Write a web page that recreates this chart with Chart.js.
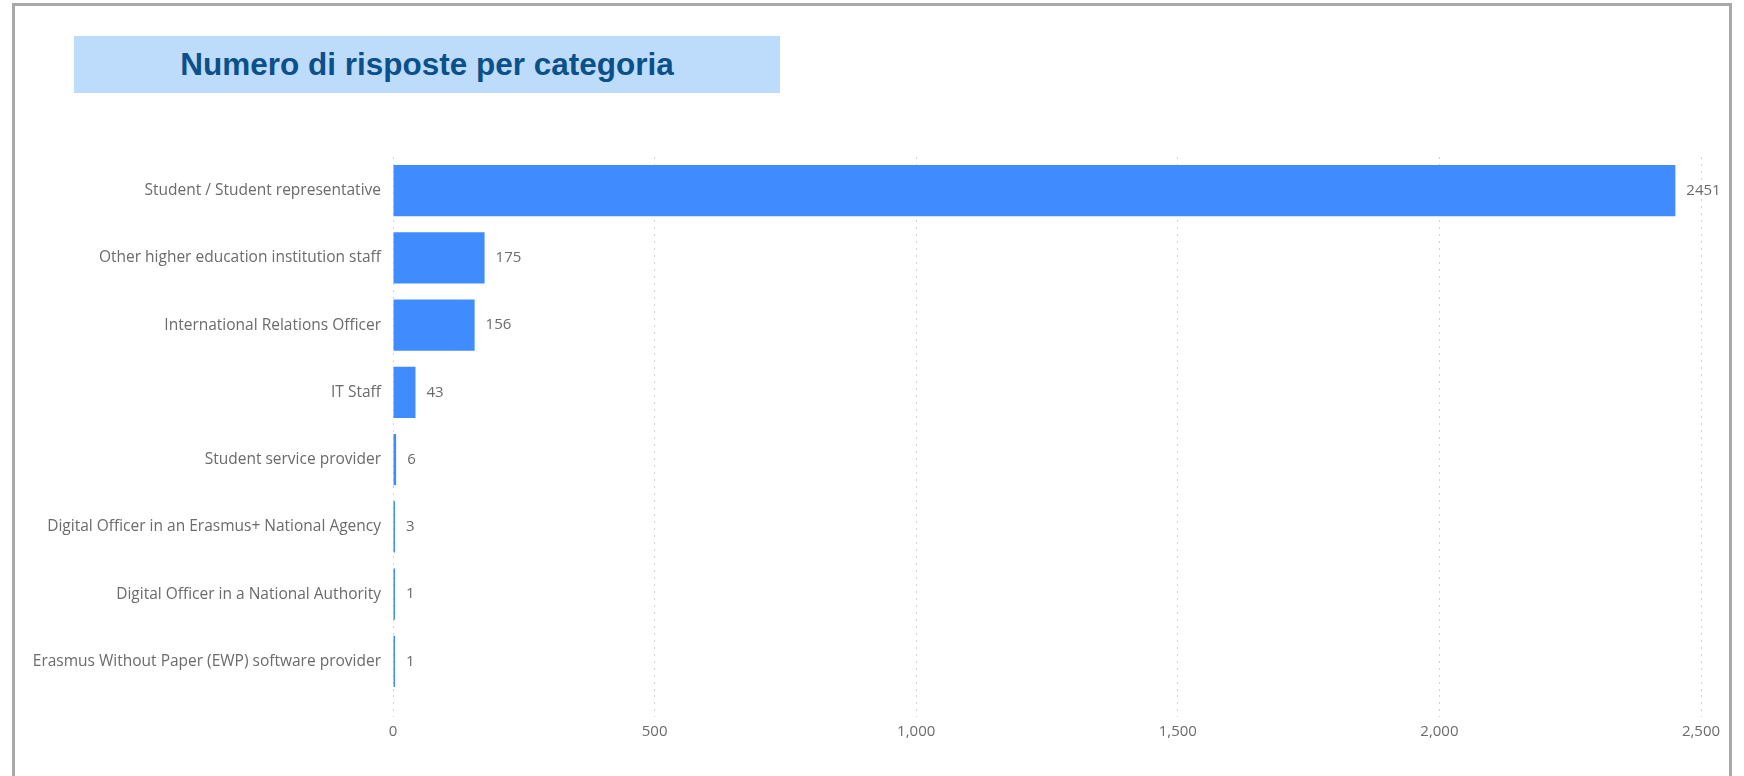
<!DOCTYPE html>
<html>
<head>
<meta charset="utf-8">
<script src="https://cdn.jsdelivr.net/npm/chart.js@4.4.1/dist/chart.umd.min.js"></script>
<style>
  html, body { margin: 0; padding: 0; background: #ffffff; }
  #wrap { position: absolute; left: 0; top: 0; width: 1744px; height: 776px; overflow: hidden; }
  #frame { position: absolute; left: 12px; top: 3px; width: 1720px; height: 800px;
           border: 3px solid #a9a9a9; box-sizing: border-box; }
  #title { position: absolute; left: 74px; top: 36px; width: 706px; height: 57px;
           background: #bddcfb; color: #0b508a; font-family: "Liberation Sans", Arial, sans-serif;
           font-weight: bold; font-size: 31.5px; display: flex; align-items: center; justify-content: center; }
  #cv { position: absolute; left: 0; top: 0; }
</style>
</head>
<body>
<div id="wrap">
  <div id="frame"></div>
  <div id="title">Numero di risposte per categoria</div>
  <canvas id="cv" width="1744" height="776"></canvas>
</div>
<script>
const categories = [
  "Student / Student representative",
  "Other higher education institution staff",
  "International Relations Officer",
  "IT Staff",
  "Student service provider",
  "Digital Officer in an Erasmus+ National Agency",
  "Digital Officer in a National Authority",
  "Erasmus Without Paper (EWP) software provider"
];
const responses = [2451, 175, 156, 43, 6, 3, 1, 1];
const xTicks = [0, 500, 1000, 1500, 2000, 2500];

const FONT = '"Open Sans", "Noto Sans", sans-serif';
const TEXT = '#6b6b6b';

const valueLabels = {
  id: 'valueLabels',
  afterDatasetsDraw(chart) {
    const ctx = chart.ctx;
    const meta = chart.getDatasetMeta(0);
    ctx.save();
    ctx.font = '15px ' + FONT;
    ctx.fillStyle = TEXT;
    ctx.textAlign = 'left';
    ctx.textBaseline = 'middle';
    meta.data.forEach((bar, i) => {
      ctx.fillText(String(responses[i]), bar.x + 11, bar.y);
    });
    ctx.restore();
  }
};

new Chart(document.getElementById('cv'), {
  type: 'bar',
  data: {
    labels: categories,
    datasets: [{
      data: responses,
      backgroundColor: '#408cff',
      borderWidth: 0,
      barPercentage: 0.76,
      categoryPercentage: 1.0,
      minBarLength: 2
    }]
  },
  options: {
    indexAxis: 'y',
    responsive: false,
    animation: false,
    devicePixelRatio: 1,
    layout: { padding: { left: 0, top: 157, right: 43, bottom: 0 } },
    plugins: { legend: { display: false }, tooltip: { enabled: false }, title: { display: false } },
    scales: {
      x: {
        type: 'linear',
        min: 0,
        max: 2500,
        afterBuildTicks(scale) { scale.ticks = xTicks.map(v => ({ value: v })); },
        afterFit(scale) { scale.height = 81; },
        border: { display: false, dash: [2, 5] },
        grid: { color: '#d2d2d2', lineWidth: 1, drawTicks: true, tickLength: 22,
                tickColor: '#d2d2d2', tickBorderDash: [2, 5] },
        ticks: { color: TEXT, font: { family: FONT, size: 15 }, padding: 6,
                 callback: v => v.toLocaleString('en-US') }
      },
      y: {
        type: 'category',
        afterFit(scale) { scale.width = 393; },
        border: { display: false },
        grid: { display: false, drawTicks: false },
        ticks: { color: TEXT, font: { family: FONT, size: 15.5 }, padding: 12, autoSkip: false }
      }
    }
  },
  plugins: [valueLabels]
});
</script>
</body>
</html>
